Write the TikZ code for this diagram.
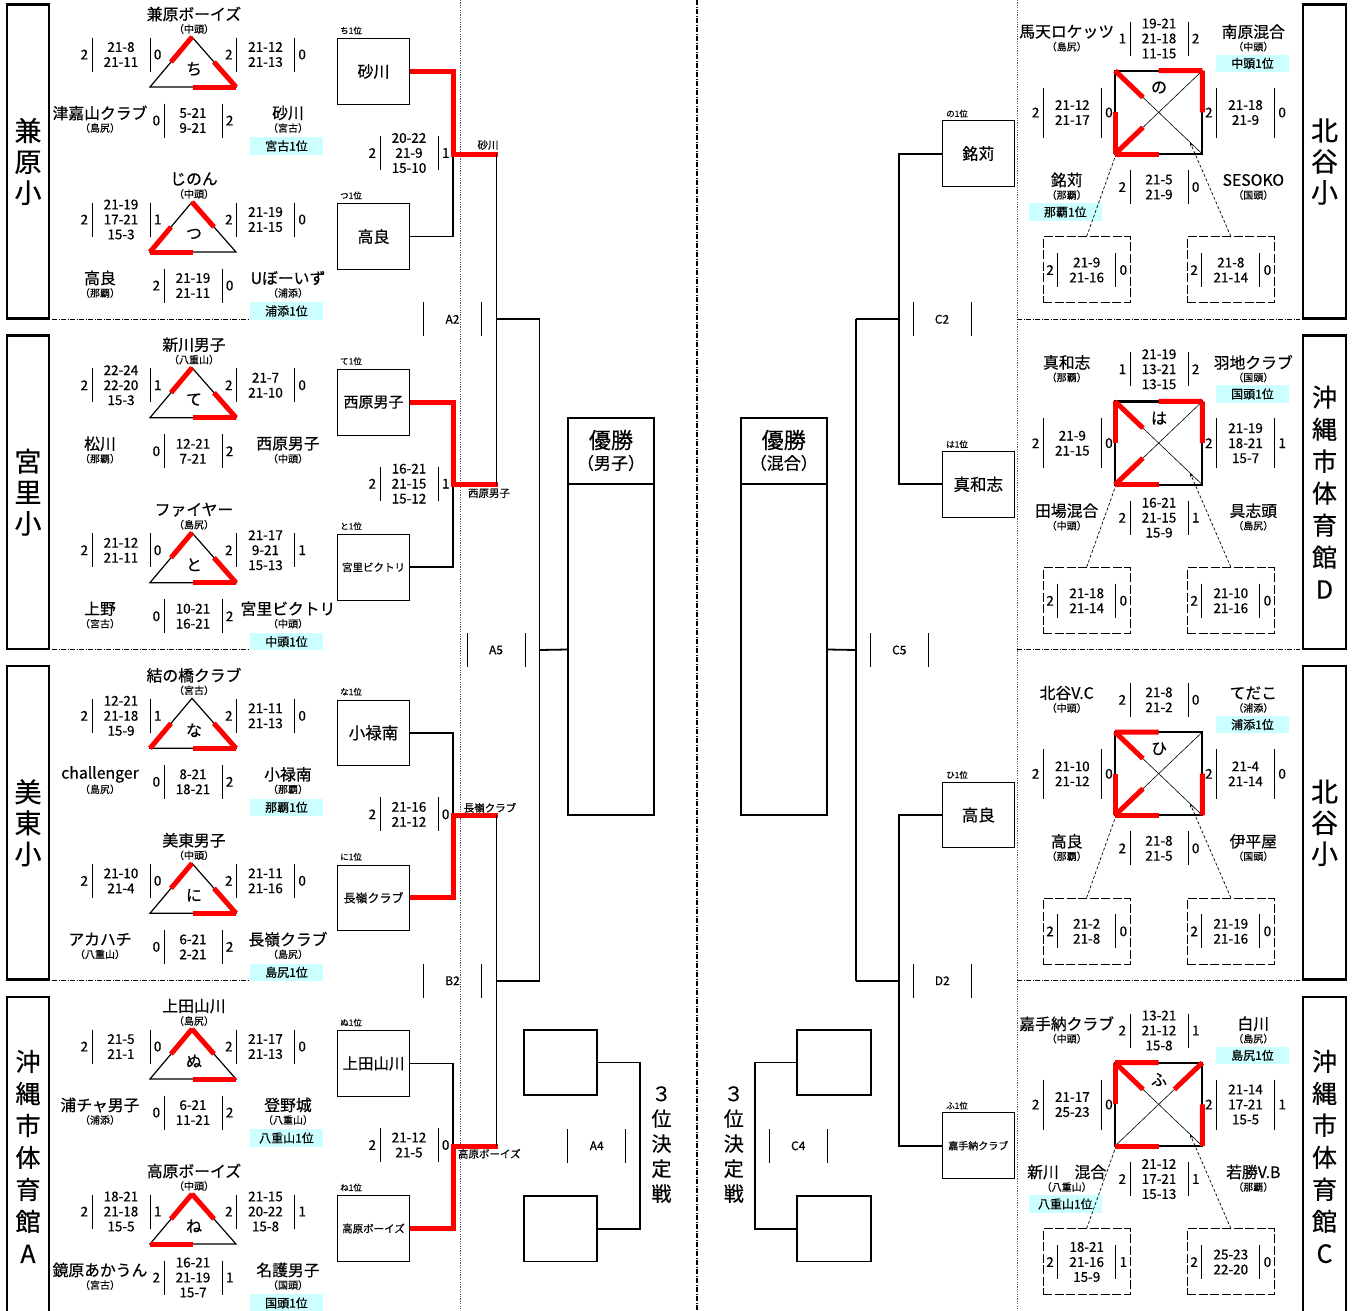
\documentclass[tikz,border=0pt]{standalone}
\usepackage{fontspec}
\setmainfont{Noto Sans CJK JP}[FakeBold=0.5]
\usetikzlibrary{arrows.meta,positioning,calc}
\definecolor{rankcyan}{HTML}{CCFFFF}
\definecolor{winred}{HTML}{FF0000}
\definecolor{dotgray}{HTML}{555555}
\tikzset{
  fsz/.style={font=\fontsize{#1}{#1}\selectfont},
  tname/.style={inner sep=0pt,fsz=15.8},
  tsub/.style={inner sep=0pt,fsz=10},
  pts/.style={inner sep=0pt,minimum width=58pt,align=center,font=\fontsize{13.5}{15}\selectfont},
  num/.style={inner sep=0pt,fsz=13.5},
  sbar/.style={line width=0.9pt},
  rank/.style={fill=rankcyan,inner sep=0pt,minimum width=73pt,minimum height=17.5pt,fsz=12},
  tri/.style={line width=1.2pt},
  sqr/.style={line width=2.2pt},
  diag/.style={line width=0.6pt},
  win/.style={draw=winred,line width=5pt},
  kana/.style={inner sep=0pt,fsz=16},
  seed/.style={draw,line width=0.9pt,minimum width=72pt,minimum height=65.7pt,inner sep=0pt,fsz=16},
  seedlab/.style={anchor=west,inner sep=0pt,fsz=8.5},
  slab/.style={inner sep=0pt,fsz=10.5},
  brk/.style={line width=1.8pt},
  brkwin/.style={draw=winred,line width=5pt},
  champ/.style={draw,line width=1.8pt,minimum width=86pt,inner sep=0pt},
  thirdbox/.style={draw,line width=1.8pt,minimum width=73.7pt,minimum height=65.7pt,inner sep=0pt},
  mlab/.style={inner sep=0pt,minimum width=58pt,fsz=12},
  blk/.style={draw,line width=2.6pt,minimum width=42pt,align=center,inner sep=0pt,font=\fontsize{27}{31}\selectfont},
  blkl/.style={blk,font=\fontsize{25}{32}\selectfont},
  vtext/.style={align=center,inner sep=0pt,font=\fontsize{20}{25}\selectfont},
  sepl/.style={line width=0.7pt,dash pattern=on 5pt off 1.5pt on 1pt off 1.5pt},
  vdot/.style={line width=0.7pt,draw=dotgray,dash pattern=on 1.2pt off 1.2pt},
  cline/.style={line width=1.4pt,dash pattern=on 5pt off 1.5pt on 1pt off 1.5pt},
  dbox/.style={draw,line width=0.8pt,dash pattern=on 9pt off 2.5pt,minimum width=86.7pt,minimum height=66pt,inner sep=0pt},
  dline/.style={line width=0.7pt,dash pattern=on 3pt off 2pt},
}
% team name with its district below
\newcommand{\teamset}[4]{%
  \node[tname] (#1) at (#2) {#3};
  \node[tsub] (#1s) at ([yshift=-15pt]#1.center) {#4};}
% set scores between two bars, games won on both sides
\newcommand{\scoreset}[6][17pt]{%
  \node[pts] (#2) at (#3) {#5};
  \draw[sbar] ([shift={(-29pt,#1)}]#2.center) -- ([shift={(-29pt,-#1)}]#2.center);
  \draw[sbar] ([shift={(29pt,#1)}]#2.center) -- ([shift={(29pt,-#1)}]#2.center);
  \node[num,left=3.5pt of #2] (#2l) {#4};
  \node[num,right=3.5pt of #2] (#2r) {#6};}
\newcommand{\matchlab}[3]{%
  \node[mlab] (#1) at (#2) {#3};
  \draw[sbar] ([shift={(-29pt,17pt)}]#1.center) -- ([shift={(-29pt,-17pt)}]#1.center);
  \draw[sbar] ([shift={(29pt,17pt)}]#1.center) -- ([shift={(29pt,-17pt)}]#1.center);}
% league of three
\newcommand{\trigroup}[3]{%
  \coordinate (#1a) at (192,37);
  \coordinate (#1bl) at (150,87);
  \coordinate (#1br) at (236,87);
  \draw[tri] (#1a) -- (#1bl) -- (#1br) -- cycle;
  \node[kana] (#1k) at (194,69) {#2};
  \foreach \p/\q in {#3} \draw[win] (#1\p) -- ($(#1\p)!0.5!(#1\q)$);}
% league of four
\newcommand{\sqgroup}[3]{%
  \coordinate (#1tl) at (1115,70.7);
  \coordinate (#1tr) at (1202.3,70.7);
  \coordinate (#1bl) at (1115,154);
  \coordinate (#1br) at (1202.3,154);
  \draw[diag] (#1tl) -- (#1br) (#1tr) -- (#1bl);
  \draw[sqr] (#1tl) rectangle (#1br);
  \node[kana] (#1k) at (1159,87.5) {#2};
  \foreach \p/\q/\w in {#3} \draw[win] (#1\p) -- ($(#1\p)!\w!(#1\q)$);}

\begin{document}
\begin{tikzpicture}[x=1pt,y=-1pt]
\fill[white] (0,0) rectangle (1354,1310);
\useasboundingbox (0,0) rectangle (1354,1310);

% guide lines
\draw[vdot] (460,0) -- (460,1310);
\draw[vdot] (1017,0) -- (1017,1310);
\draw[cline] (697,0) -- (697,1310);
\foreach \y in {319,649.7,980.3} {
  \draw[sepl] (52,\y) -- (323,\y);
  \draw[sepl] (1017,\y) -- (1300,\y);
}

% venue labels
\node[blk,minimum height=313.5pt] (lb1) at (28,161.5) {兼\\原\\小};
\node[blk,minimum height=313.5pt] (lb2) at (28,492.2) {宮\\里\\小};
\node[blk,minimum height=313.5pt] (lb3) at (28,822.8) {美\\東\\小};
\node[blkl,minimum height=319pt] (lb4) at (28,1156.5) {沖\\縄\\市\\体\\育\\館\\A};
\node[blk,minimum height=313.5pt,minimum width=43pt] (rb1) at (1324.5,161.5) {北\\谷\\小};
\node[blkl,minimum height=313.5pt,minimum width=43pt] (rb2) at (1324.5,492.2) {沖\\縄\\市\\体\\育\\館\\D};
\node[blk,minimum height=313.5pt,minimum width=43pt] (rb3) at (1324.5,822.8) {北\\谷\\小};
\node[blkl,minimum height=319pt,minimum width=43pt] (rb4) at (1324.5,1156.5) {沖\\縄\\市\\体\\育\\館\\C};

% ---- 兼原小 ----
\begin{scope}
\teamset{chiT}{194,14}{兼原ボーイズ}{（中頭）}
\trigroup{chi}{ち}{a/bl,br/a,br/bl}
\scoreset{chiL}{121,54.5}{2}{21-8\\21-11}{0}
\scoreset{chiR}{265.5,54.5}{2}{21-12\\21-13}{0}
\teamset{chiP}{100,113}{津嘉山クラブ}{（島尻）}
\scoreset{chiB}{193,120.5}{0}{5-21\\9-21}{2}
\teamset{chiQ}{288,113}{砂川}{（宮古）}
\node[rank] (chiK) at (286.5,146) {宮古1位};
\end{scope}
\begin{scope}[shift={(0,165)}]
\teamset{tsuT}{194,14}{じのん}{（中頭）}
\trigroup{tsu}{つ}{bl/a,a/br,bl/br}
\scoreset{tsuL}{121,54.5}{2}{21-19\\17-21\\15-3}{1}
\scoreset{tsuR}{265.5,54.5}{2}{21-19\\21-15}{0}
\teamset{tsuP}{100,113}{高良}{（那覇）}
\scoreset{tsuB}{193,120.5}{2}{21-19\\21-11}{0}
\teamset{tsuQ}{288,113}{Uぼーいず}{（浦添）}
\node[rank] (tsuK) at (286.5,146) {浦添1位};
\end{scope}
\begin{scope}
\node[seedlab] (chiN) at (340,30.5) {ち1位};
\node[seed] (chiW) at (373.5,71.5) {砂川};
\scoreset{ctS}{409,153}{2}{20-22\\21-9\\15-10}{1}
\node[seedlab] (tsuN) at (340,195.5) {つ1位};
\node[seed] (tsuW) at (373.5,236.5) {高良};
\coordinate (m1) at (453,154);
\coordinate (j1) at (496.5,154);
\node[slab] (w1) at (488,145) {砂川};
\end{scope}
\draw[brk] (tsuW.east) -| (m1);
\draw[brkwin] (chiW.east) -| (m1) -- ([xshift=1.5pt]j1);

% ---- 宮里小 ----
\begin{scope}[shift={(0,330.7)}]
\teamset{teT}{194,14}{新川男子}{（八重山）}
\trigroup{te}{て}{a/bl,br/a,br/bl}
\scoreset{teL}{121,54.5}{2}{22-24\\22-20\\15-3}{1}
\scoreset{teR}{265.5,54.5}{2}{21-7\\21-10}{0}
\teamset{teP}{100,113}{松川}{（那覇）}
\scoreset{teB}{193,120.5}{0}{12-21\\7-21}{2}
\teamset{teQ}{288,113}{西原男子}{（中頭）}
\end{scope}
\begin{scope}[shift={(0,495.7)}]
\teamset{toT}{194,14}{ファイヤー}{（島尻）}
\trigroup{to}{と}{a/bl,br/a,br/bl}
\scoreset{toL}{121,54.5}{2}{21-12\\21-11}{0}
\scoreset{toR}{265.5,54.5}{2}{21-17\\9-21\\15-13}{1}
\teamset{toP}{100,113}{上野}{（宮古）}
\scoreset{toB}{193,120.5}{0}{10-21\\16-21}{2}
\teamset{toQ}{288,113}{宮里ビクトリ}{（中頭）}
\node[rank] (toK) at (286.5,146) {中頭1位};
\end{scope}
\begin{scope}[shift={(0,330.7)}]
\node[seedlab] (teN) at (340,30.5) {て1位};
\node[seed,fsz=15] (teW) at (373.5,71.5) {西原男子};
\scoreset{ttS}{409,153}{2}{16-21\\21-15\\15-12}{1}
\node[seedlab] (toN) at (340,195.5) {と1位};
\node[seed,fsz=10.5] (toW) at (373.5,236.5) {宮里ビクトリ};
\coordinate (m2) at (453,154);
\coordinate (j2) at (496.5,154);
\node[slab] (w2) at (489,162.6) {西原男子};
\end{scope}
\draw[brk] (toW.east) -| (m2);
\draw[brkwin] (teW.east) -| (m2) -- ([xshift=1.5pt]j2);

% ---- 美東小 ----
\begin{scope}[shift={(0,661.3)}]
\teamset{naT}{194,14}{結の橋クラブ}{（宮古）}
\trigroup{na}{な}{bl/a,br/a,br/bl}
\scoreset{naL}{121,54.5}{2}{12-21\\21-18\\15-9}{1}
\scoreset{naR}{265.5,54.5}{2}{21-11\\21-13}{0}
\teamset{naP}{100,113}{challenger}{（島尻）}
\scoreset{naB}{193,120.5}{0}{8-21\\18-21}{2}
\teamset{naQ}{288,113}{小禄南}{（那覇）}
\node[rank] (naK) at (286.5,146) {那覇1位};
\end{scope}
\begin{scope}[shift={(0,826.3)}]
\teamset{niT}{194,14}{美東男子}{（中頭）}
\trigroup{ni}{に}{a/bl,br/a,br/bl}
\scoreset{niL}{121,54.5}{2}{21-10\\21-4}{0}
\scoreset{niR}{265.5,54.5}{2}{21-11\\21-16}{0}
\teamset{niP}{100,113}{アカハチ}{（八重山）}
\scoreset{niB}{193,120.5}{0}{6-21\\2-21}{2}
\teamset{niQ}{288,113}{長嶺クラブ}{（島尻）}
\node[rank] (niK) at (286.5,146) {島尻1位};
\end{scope}
\begin{scope}[shift={(0,661.3)}]
\node[seedlab] (naN) at (340,30.5) {な1位};
\node[seed,fsz=16.5] (naW) at (373.5,71.5) {小禄南};
\scoreset{nnS}{409,153}{2}{21-16\\21-12}{0}
\node[seedlab] (niN) at (340,195.5) {に1位};
\node[seed,fsz=12] (niW) at (373.5,236.5) {長嶺クラブ};
\coordinate (m3) at (453,154);
\coordinate (j3) at (496.5,154);
\node[slab] (w3) at (490,146.5) {長嶺クラブ};
\end{scope}
\draw[brk] (naW.east) -| (m3);
\draw[brkwin] (niW.east) -| (m3) -- ([xshift=1.5pt]j3);

% ---- 沖縄市体育館A ----
\begin{scope}[shift={(0,992)}]
\teamset{nuT}{194,14}{上田山川}{（島尻）}
\trigroup{nu}{ぬ}{a/bl,a/br,br/bl}
\scoreset{nuL}{121,54.5}{2}{21-5\\21-1}{0}
\scoreset{nuR}{265.5,54.5}{2}{21-17\\21-13}{0}
\teamset{nuP}{100,113}{浦チャ男子}{（浦添）}
\scoreset{nuB}{193,120.5}{0}{6-21\\11-21}{2}
\teamset{nuQ}{288,113}{登野城}{（八重山）}
\node[rank] (nuK) at (286.5,146) {八重山1位};
\end{scope}
\begin{scope}[shift={(0,1157)}]
\teamset{neT}{194,14}{高原ボーイズ}{（中頭）}
\trigroup{ne}{ね}{a/bl,a/br,bl/br}
\scoreset{neL}{121,54.5}{2}{18-21\\21-18\\15-5}{1}
\scoreset{neR}{265.5,54.5}{2}{21-15\\20-22\\15-8}{1}
\teamset{neP}{100,113}{鏡原あかうん}{（宮古）}
\scoreset{neB}{193,120.5}{2}{16-21\\21-19\\15-7}{1}
\teamset{neQ}{288,113}{名護男子}{（国頭）}
\node[rank] (neK) at (286.5,146) {国頭1位};
\end{scope}
\begin{scope}[shift={(0,992)}]
\node[seedlab] (nuN) at (340,30.5) {ぬ1位};
\node[seed,fsz=15.5] (nuW) at (373.5,71.5) {上田山川};
\scoreset{nsS}{409,153}{2}{21-12\\21-5}{0}
\node[seedlab] (neN) at (340,195.5) {ね1位};
\node[seed,fsz=10.5] (neW) at (373.5,236.5) {高原ボーイズ};
\coordinate (m4) at (453,154);
\coordinate (j4) at (496.5,154);
\node[slab] (w4) at (489.3,161.8) {高原ボーイズ};
\end{scope}
\draw[brk] (nuW.east) -| (m4);
\draw[brkwin] (neW.east) -| (m4) -- ([xshift=1.5pt]j4);

% men's bracket
\coordinate (k1) at (496.5,319.3);
\coordinate (q1) at (539.5,319.3);
\coordinate (k2) at (496.5,980.7);
\coordinate (q2) at (539.5,980.7);
\coordinate (qm) at (539.5,650);
\draw[brk] (j1) -- (j2);
\draw[brk] (j3) -- (j4);
\draw[brk] (k1) -- (q1);
\draw[brk] (k2) -- (q2);
\draw[brk] (q1) -- (q2);
\matchlab{mA2}{452.5,319.3}{A2}
\matchlab{mB2}{452.5,980.7}{B2}
\matchlab{mA5}{496,650}{A5}
\node[champ,minimum height=66pt] (wmh) at (611,451) {};
\node[champ,minimum height=331pt] (wmb) at (611,649.5) {};
\node[fsz=22,inner sep=0pt] (wmt) at (611,440) {優勝};
\node[fsz=17,inner sep=0pt] (wms) at (611,463) {（男子）};
\draw[brk] (qm) -- (wmb.west);
\node[thirdbox] (t1) at (560.5,1062.5) {};
\node[thirdbox] (t2) at (560.5,1228.7) {};
\coordinate (t3) at (640,1145.8);
\draw[brk] (t1.east) -| (t3) |- (t2.east);
\matchlab{mA4}{596.7,1145.8}{A4}
\node[vtext] (tl3) at (661.5,1144.5) {３\\位\\決\\定\\戦};

% ---- 北谷小 ----
\begin{scope}
\teamset{noA}{1066.7,31.7}{馬天ロケッツ}{（島尻）}
\scoreset{noT}{1159,38.5}{1}{19-21\\21-18\\11-15}{2}
\teamset{noB}{1253.3,31.7}{南原混合}{（中頭）}
\node[rank] (noK) at (1252.5,63.3) {中頭1位};
\sqgroup{no}{の}{tr/tl/0.5,tr/br/0.5,tl/br/0.32,bl/tl/0.5,bl/tr/0.32,bl/br/0.5}
\scoreset[25pt]{noL}{1072.3,112.5}{2}{21-12\\21-17}{0}
\scoreset[25pt]{noR}{1245.5,112.5}{2}{21-18\\21-9}{0}
\teamset{noC}{1066.7,180}{銘苅}{（那覇）}
\node[rank] (noJ) at (1065.3,212) {那覇1位};
\scoreset{noU}{1159,187}{2}{21-5\\21-9}{0}
\teamset{noD}{1253.3,180}{SESOKO}{（国頭）}
\node[dbox] (noX) at (1086.7,269.7) {};
\scoreset{noXs}{1086.7,270}{2}{21-9\\21-16}{0}
\node[dbox] (noY) at (1230.8,269.7) {};
\scoreset{noYs}{1230.8,270}{2}{21-8\\21-14}{0}
\draw[dline] (noX.north) -- ([yshift=-3pt]nobl);
\draw[dline,-{Stealth[length=4pt,width=3pt]}] (noY.north) -- ($(notl)!0.86!(nobr)$);
\node[seedlab] (noN) at (946,113.6) {の1位};
\node[seed] (noW) at (978.3,153.6) {銘苅};
\end{scope}

% ---- 沖縄市体育館D ----
\begin{scope}[shift={(0,330.7)}]
\teamset{haA}{1066.7,31.7}{真和志}{（那覇）}
\scoreset{haT}{1159,38.5}{1}{21-19\\13-21\\13-15}{2}
\teamset{haB}{1253.3,31.7}{羽地クラブ}{（国頭）}
\node[rank] (haK) at (1252.5,63.3) {国頭1位};
\sqgroup{ha}{は}{tr/tl/0.5,tr/br/0.5,tl/br/0.32,tl/bl/0.5,bl/tr/0.32,bl/br/0.5}
\scoreset[25pt]{haL}{1072.3,112.5}{2}{21-9\\21-15}{0}
\scoreset[25pt]{haR}{1245.5,112.5}{2}{21-19\\18-21\\15-7}{1}
\teamset{haC}{1066.7,180}{田場混合}{（中頭）}
\scoreset{haU}{1159,187}{2}{16-21\\21-15\\15-9}{1}
\teamset{haD}{1253.3,180}{具志頭}{（島尻）}
\node[dbox] (haX) at (1086.7,269.7) {};
\scoreset{haXs}{1086.7,270}{2}{21-18\\21-14}{0}
\node[dbox] (haY) at (1230.8,269.7) {};
\scoreset{haYs}{1230.8,270}{2}{21-10\\21-16}{0}
\draw[dline] (haX.north) -- ([yshift=-3pt]habl);
\draw[dline,-{Stealth[length=4pt,width=3pt]}] (haY.north) -- ($(hatl)!0.86!(habr)$);
\node[seedlab] (haN) at (946,113.6) {は1位};
\node[seed,fsz=16.5] (haW) at (978.3,153.6) {真和志};
\end{scope}

% ---- 北谷小 ----
\begin{scope}[shift={(0,661.3)}]
\teamset{hiA}{1066.7,31.7}{北谷V.C}{（中頭）}
\scoreset{hiT}{1159,38.5}{2}{21-8\\21-2}{0}
\teamset{hiB}{1253.3,31.7}{てだこ}{（浦添）}
\node[rank] (hiK) at (1252.5,63.3) {浦添1位};
\sqgroup{hi}{ひ}{tl/tr/0.5,tl/br/0.32,bl/tl/0.5,bl/tr/0.32,bl/br/0.5,br/tr/0.5}
\scoreset[25pt]{hiL}{1072.3,112.5}{2}{21-10\\21-12}{0}
\scoreset[25pt]{hiR}{1245.5,112.5}{2}{21-4\\21-14}{0}
\teamset{hiC}{1066.7,180}{高良}{（那覇）}
\scoreset{hiU}{1159,187}{2}{21-8\\21-5}{0}
\teamset{hiD}{1253.3,180}{伊平屋}{（国頭）}
\node[dbox] (hiX) at (1086.7,269.7) {};
\scoreset{hiXs}{1086.7,270}{2}{21-2\\21-8}{0}
\node[dbox] (hiY) at (1230.8,269.7) {};
\scoreset{hiYs}{1230.8,270}{2}{21-19\\21-16}{0}
\draw[dline] (hiX.north) -- ([yshift=-3pt]hibl);
\draw[dline,-{Stealth[length=4pt,width=3pt]}] (hiY.north) -- ($(hitl)!0.86!(hibr)$);
\node[seedlab] (hiN) at (946,113.6) {ひ1位};
\node[seed,fsz=16.5] (hiW) at (978.3,153.6) {高良};
\end{scope}

% ---- 沖縄市体育館C ----
\begin{scope}[shift={(0,992)}]
\teamset{fuA}{1066.7,31.7}{嘉手納クラブ}{（中頭）}
\scoreset{fuT}{1159,38.5}{2}{13-21\\21-12\\15-8}{1}
\teamset{fuB}{1253.3,31.7}{白川}{（島尻）}
\node[rank] (fuK) at (1252.5,63.3) {島尻1位};
\sqgroup{fu}{ふ}{tl/tr/0.5,tl/bl/0.5,tl/br/0.32,tr/bl/0.32,br/tr/0.5,bl/br/0.5}
\scoreset[25pt]{fuL}{1072.3,112.5}{2}{21-17\\25-23}{0}
\scoreset[25pt]{fuR}{1245.5,112.5}{2}{21-14\\17-21\\15-5}{1}
\teamset{fuC}{1066.7,180}{新川　混合}{（八重山）}
\node[rank] (fuJ) at (1065.3,212) {八重山1位};
\scoreset{fuU}{1159,187}{2}{21-12\\17-21\\15-13}{1}
\teamset{fuD}{1253.3,180}{若勝V.B}{（那覇）}
\node[dbox] (fuX) at (1086.7,269.7) {};
\scoreset{fuXs}{1086.7,270}{2}{18-21\\21-16\\15-9}{1}
\node[dbox] (fuY) at (1230.8,269.7) {};
\scoreset{fuYs}{1230.8,270}{2}{25-23\\22-20}{0}
\draw[dline] (fuX.north) -- ([yshift=-3pt]fubl);
\draw[dline,-{Stealth[length=4pt,width=3pt]}] (fuY.north) -- ($(futl)!0.86!(fubr)$);
\node[seedlab] (fuN) at (946,113.6) {ふ1位};
\node[seed,fsz=10] (fuW) at (978.3,153.6) {嘉手納クラブ};
\end{scope}

% mixed bracket
\coordinate (rk1) at (899,319.3);
\coordinate (rq1) at (856,319.3);
\coordinate (rk2) at (899,980.7);
\coordinate (rq2) at (856,980.7);
\coordinate (rqm) at (856,650);
\draw[brk] (noW.west) -| (rk1) |- (haW.west);
\draw[brk] (hiW.west) -| (rk2) |- (fuW.west);
\draw[brk] (rk1) -- (rq1);
\draw[brk] (rk2) -- (rq2);
\draw[brk] (rq1) -- (rq2);
\matchlab{mC2}{942,319.3}{C2}
\matchlab{mD2}{942.3,980.7}{D2}
\matchlab{mC5}{899.3,650}{C5}
\node[champ,minimum height=66pt] (wxh) at (783.8,451) {};
\node[champ,minimum height=331pt] (wxb) at (783.8,649.5) {};
\node[fsz=22,inner sep=0pt] (wxt) at (783.8,440) {優勝};
\node[fsz=17,inner sep=0pt] (wxs) at (783.8,463) {（混合）};
\draw[brk] (rqm) -- (wxb.east);
\node[thirdbox] (u1) at (833.9,1062.5) {};
\node[thirdbox] (u2) at (833.9,1228.7) {};
\coordinate (u3) at (754.8,1145.8);
\draw[brk] (u1.west) -| (u3) |- (u2.west);
\matchlab{mC4}{798.2,1145.8}{C4}
\node[vtext] (tr3) at (733.8,1144.5) {３\\位\\決\\定\\戦};
\end{tikzpicture}
\end{document}
